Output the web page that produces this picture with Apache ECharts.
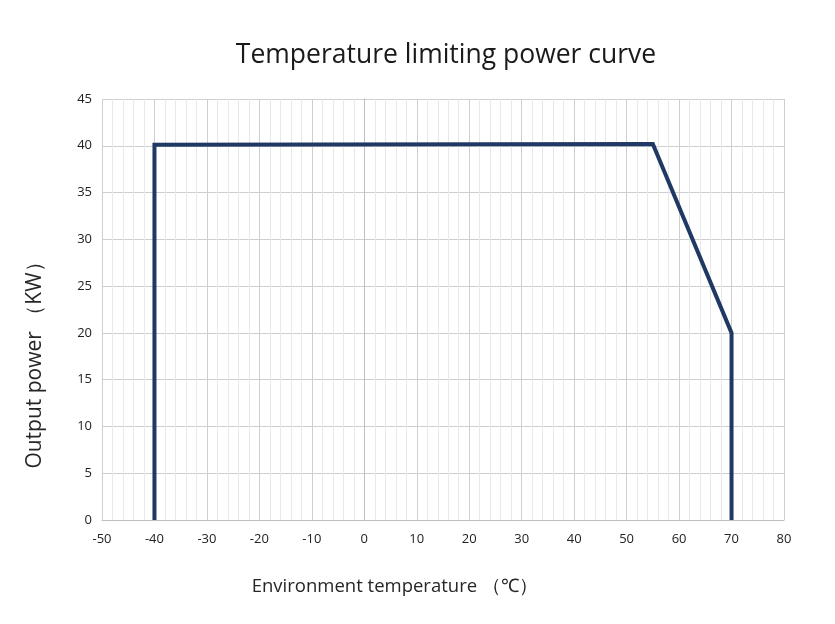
<!DOCTYPE html>
<html>
<head>
<meta charset="utf-8">
<script src="https://cdn.jsdelivr.net/npm/echarts@6/dist/echarts.min.js"></script>
<style>html,body{margin:0;padding:0;background:#fff}#c{width:835px;height:624px}</style>
</head>
<body>
<div id="c"></div>
<script>
const temperatures = [-40, -40, 55, 70, 70];
const powerKW = [0, 40.1, 40.2, 20, 0];
const xMin = -50, xMax = 80, xStep = 10;
const yMin = 0, yMax = 45, yStep = 5;
const titleText = 'Temperature limiting power curve';
const xName = 'Environment temperature （℃）';
const yName = 'Output power （KW）';

const chart = echarts.init(document.getElementById('c'), null, {renderer: 'canvas'});
const font = '"Open Sans", "Noto Sans", sans-serif';
chart.setOption({
  animation: false,
  backgroundColor: '#ffffff',
  title: {
    text: titleText, left: 441, top: 37, textAlign: 'center',
    textStyle: {fontFamily: font, fontSize: 26.5, fontWeight: 'normal', color: '#1a1a1a'}
  },
  grid: {left: 102, right: 51, top: 99, bottom: 104, show: false},
  xAxis: {
    type: 'value', min: xMin, max: xMax, interval: xStep,
    axisLine: {show: true, lineStyle: {color: '#bfbfbf', width: 1}},
    axisTick: {show: false},
    axisLabel: {color: '#222', fontFamily: font, fontSize: 13, margin: 13},
    splitLine: {show: true, lineStyle: {color: '#cfcfcf', width: 1}},
    minorTick: {show: false, splitNumber: 5},
    minorSplitLine: {show: true, lineStyle: {color: '#e8e8e8', width: 1}}
  },
  yAxis: {
    type: 'value', min: yMin, max: yMax, interval: yStep,
    axisLine: {show: true, lineStyle: {color: '#bfbfbf', width: 1}},
    axisTick: {show: false},
    axisLabel: {color: '#222', fontFamily: font, fontSize: 13, margin: 10},
    splitLine: {show: true, lineStyle: {color: '#cfcfcf', width: 1}}
  },
  graphic: [
    {type: 'text', x: 395, y: 587, style: {text: xName, align: 'center', verticalAlign: 'middle', font: '18.5px ' + font, fill: '#262626'}},
    {type: 'text', rotation: Math.PI / 2, x: 35, y: 360, style: {text: yName, align: 'center', verticalAlign: 'middle', font: '21px ' + font, fill: '#262626'}}
  ],
  series: [{
    type: 'line',
    data: temperatures.map((t, i) => [t, powerKW[i]]),
    showSymbol: false,
    lineStyle: {color: '#1f3864', width: 4, join: 'miter'},
    itemStyle: {color: '#1f3864'}
  }]
});
</script>
</body>
</html>
